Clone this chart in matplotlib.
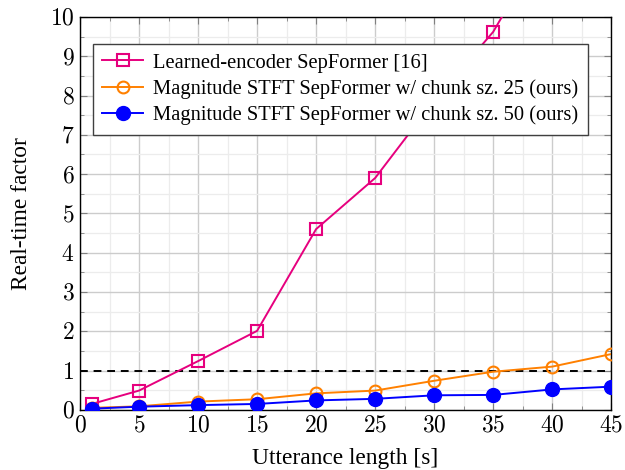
import matplotlib
matplotlib.use("Agg")
import matplotlib.pyplot as plt
from matplotlib.ticker import MultipleLocator, FuncFormatter

plt.rcParams['font.family'] = ['Liberation Serif', 'DejaVu Serif']
plt.rcParams['mathtext.fontset'] = 'cm'

lengths = [1, 5, 10, 15, 20, 25, 30, 35, 40, 45]
learned = [0.15, 0.49, 1.24, 2.01, 4.6, 5.9, 7.87, 9.62, 12.2, 14.8]
stft25 = [0.05, 0.09, 0.21, 0.27, 0.42, 0.49, 0.74, 0.97, 1.10, 1.42]
stft50 = [0.03, 0.08, 0.12, 0.15, 0.24, 0.28, 0.37, 0.38, 0.52, 0.59]
labels = ["Learned-encoder SepFormer [16]",
          "Magnitude STFT SepFormer w/ chunk sz. 25 (ours)",
          "Magnitude STFT SepFormer w/ chunk sz. 50 (ours)"]

fig = plt.figure(figsize=(6.25, 4.7), dpi=100)
ax = fig.add_axes([0.128, 0.128, 0.85, 0.836])

ax.plot(lengths, learned, color='#e6007e', lw=1.4, marker='s', ms=9,
        mfc='none', mec='#e6007e', mew=1.5, label=labels[0], zorder=3)
ax.plot(lengths, stft25, color='#ff8000', lw=1.4, marker='o', ms=8.5,
        mfc='none', mec='#ff8000', mew=1.5, label=labels[1], zorder=3)
ax.plot(lengths, stft50, color='#0000ff', lw=1.4, marker='o', ms=10,
        mfc='#0000ff', mec='#0000ff', label=labels[2], zorder=4)
ax.axhline(1, color='black', lw=1.4, ls=(0, (4, 3)), zorder=2)

ax.set_xlim(0, 45)
ax.set_ylim(0, 10)
ax.xaxis.set_major_locator(MultipleLocator(5))
ax.xaxis.set_minor_locator(MultipleLocator(2.5))
ax.yaxis.set_major_locator(MultipleLocator(1))
ax.yaxis.set_minor_locator(MultipleLocator(0.5))
fmt = FuncFormatter(lambda v, p: r'$%d$' % round(v))
ax.xaxis.set_major_formatter(fmt)
ax.yaxis.set_major_formatter(fmt)
ax.grid(which='major', color='#cccccc', lw=1.0, zorder=0)
ax.grid(which='minor', color='#ececec', lw=0.9, zorder=0)
ax.set_axisbelow(True)
ax.tick_params(which='both', direction='in', top=True, right=True,
               labelsize=17, color='#808080')
ax.tick_params(which='major', length=5, pad=4)
ax.tick_params(which='minor', length=3)
for s in ax.spines.values():
    s.set_linewidth(1.0)

ax.set_xlabel("Utterance length [s]", fontsize=16.8, labelpad=8)
ax.set_ylabel("Real-time factor", fontsize=16.8, labelpad=13)

leg = ax.legend(loc='upper left', bbox_to_anchor=(0.024, 0.931), fontsize=14.8,
                frameon=True, fancybox=False, edgecolor='#404040',
                framealpha=1, borderpad=0.45, labelspacing=0.32,
                handlelength=2.0, handletextpad=0.5, borderaxespad=0)
leg.get_frame().set_linewidth(1.0)

fig.savefig("out.png", dpi=100)
